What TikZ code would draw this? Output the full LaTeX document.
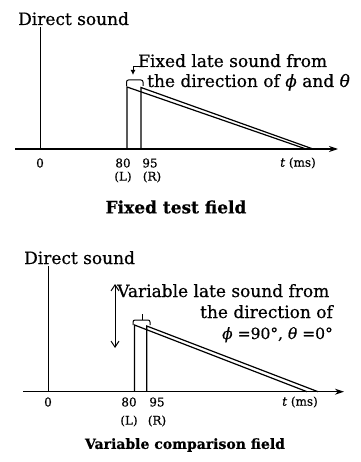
\documentclass[tikz,border=0pt]{standalone}
\usepackage{fontspec}
\setmainfont{DejaVu Serif}[FakeBold=0.6]
\usetikzlibrary{arrows.meta}
\begin{document}
\begin{tikzpicture}[x=1pt,y=-1pt,
  lbl/.style={font=\fontsize{17}{17}\selectfont, inner sep=0pt, anchor=base west},
  tk/.style={font=\fontsize{12}{12}\selectfont, inner sep=0pt},
  ttl/.style={font=\fontsize{17}{17}\selectfont\bfseries, inner sep=0pt},
  ln/.style={line width=1.2pt},
  ax/.style={line width=1.2pt, -{Stealth[length=9pt,width=6pt]}}]
\useasboundingbox (0,0) rectangle (360,462);
% ---------- top panel ----------
\node[lbl] (d1) at (18,25) {Direct sound};
\coordinate (d1top) at (40.5,27);
\coordinate (d1bot) at (40.5,149);
\draw[ln] (d1top) -- (d1bot);
\coordinate (a1s) at (15,149);
\coordinate (a1e) at (338,149);
\draw[ax] (a1s) -- (a1e);
\draw[ln] (127,149) -- (127,87) -- (306,149);
\draw[ln] (141,149) -- (141,87.5) -- (313,149);
\draw[line width=1pt, rounded corners=2pt] (126.5,86) -- (126.5,80) -- (143,80) -- (143,86);
\node[lbl] (f1) at (138,67) {Fixed late sound from};
\node[lbl] (f2) at (147,87) {the direction of {\itshape ϕ} and {\itshape θ}};
\coordinate (lead) at (148,67);
\coordinate (leadc) at (133,67);
\coordinate (leadt) at (133,75);
\draw[line width=1pt, -{Latex[length=5pt,width=5pt]}] (lead) -- (leadc) -- (leadt);
\node[tk] (z1) at (40,163) {0};
\node[tk] (e1) at (123,163) {80};
\node[tk] (n1) at (150,163) {95};
\node[tk] (l1) at (123,177) {(L)};
\node[tk] (r1) at (152,177) {(R)};
\node[tk] (t1) at (298,163) {{\itshape t} (ms)};
\node[ttl] (ti1) at (176,207) {Fixed test field};
% ---------- bottom panel ----------
\node[lbl] (d2) at (24,264) {Direct sound};
\coordinate (d2top) at (48.3,266);
\coordinate (d2bot) at (48.3,391.7);
\draw[ln] (d2top) -- (d2bot);
\coordinate (a2s) at (23,391.7);
\coordinate (a2e) at (344,391.7);
\draw[ax] (a2s) -- (a2e);
\draw[ln] (134.5,391.7) -- (134.5,325) -- (307,391.7);
\draw[ln] (146.7,391.7) -- (146.7,326) -- (318,391.7);
\draw[line width=1pt, rounded corners=2pt] (133,325) -- (133,320) -- (150,320) -- (150,325);
\draw[line width=1pt] (142,314) -- (142,320);
\coordinate (va) at (115,284);
\coordinate (vb) at (115,348);
\draw[line width=1pt, {Straight Barb[length=6pt,width=8pt]}-{Straight Barb[length=6pt,width=8pt]}] (va) -- (vb);
\node[lbl] (v1) at (117,297) {Variable late sound from};
\node[lbl, anchor=base east] (v2) at (333,318) {the direction of};
\node[lbl, anchor=base east, font=\fontsize{15.5}{15.5}\selectfont] (v3) at (333,339) {{\itshape ϕ} =90°, {\itshape θ} =0°};
\node[tk] (z2) at (48,402) {0};
\node[tk] (e2) at (129,402) {80};
\node[tk] (n2) at (157,402) {95};
\node[tk] (l2) at (129,421) {(L)};
\node[tk] (r2) at (157,421) {(R)};
\node[tk] (t2) at (300,402) {{\itshape t} (ms)};
\node[ttl, font=\fontsize{14}{14}\selectfont\bfseries] (ti2) at (185,445) {Variable comparison field};
\end{tikzpicture}
\end{document}
